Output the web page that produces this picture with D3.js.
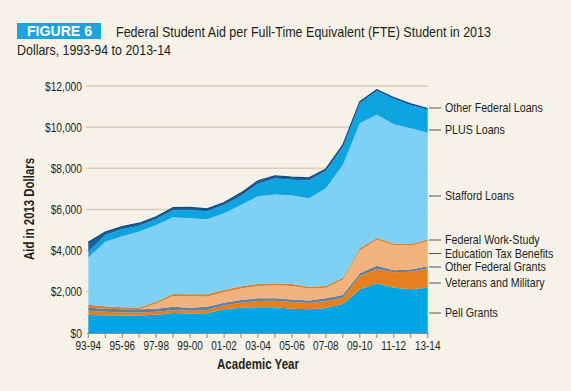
<!DOCTYPE html>
<html><head><meta charset="utf-8">
<script src="https://cdn.jsdelivr.net/npm/d3@7"></script>
<style>
html,body{margin:0;padding:0;background:#f6f2e8;}
svg{display:block;}
</style></head>
<body>
<svg id="c" width="571" height="391"></svg>
<script>
const years = ["93-94","94-95","95-96","96-97","97-98","98-99","99-00","00-01","01-02","02-03","03-04","04-05","05-06","06-07","07-08","08-09","09-10","10-11","11-12","12-13","13-14"];
const tickLabels = ["93-94","95-96","97-98","99-00","01-02","03-04","05-06","07-08","09-10","11-12","13-14"];
const yTicks = [0,2000,4000,6000,8000,10000,12000];

const pellGrants        = [880,860,850,850,890,970,950,960,1150,1230,1250,1250,1180,1150,1215,1410,2124,2415,2200,2124,2200];
const veteransMilitary  = [200,175,150,150,145,148,130,158,195,244,305,320,327,308,340,306,661,695,750,856,944];
const otherFedGrants    = [150,145,150,150,145,160,150,160,130,130,130,120,115,115,130,130,115,160,100,100,100];
const eduTaxBenefits    = [0,0,0,0,250,515,550,500,516,564,600,634,666,590,510,750,1126,1260,1220,1170,1215];
const workStudy         = [140,115,100,85,90,100,100,100,100,100,95,95,95,90,90,90,90,82,77,77,83];
const staffordLoans     = [2303,3144,3452,3695,3729,3725,3695,3645,3727,3952,4269,4305,4292,4295,4746,5477,6074,5997,5800,5623,5185];
const plusLoans         = [272,323,340,275,275,340,385,388,403,438,600,780,767,855,840,892,990,1153,1235,1120,1121];
const otherFedLoans     = [458,140,130,130,125,130,140,120,120,150,150,130,127,133,100,80,60,60,60,60,60];

const seriesNames = ["Pell Grants","Veterans and Military","Other Federal Grants","Education Tax Benefits","Federal Work-Study","Stafford Loans","PLUS Loans","Other Federal Loans"];
const seriesData = [pellGrants,veteransMilitary,otherFedGrants,eduTaxBenefits,workStudy,staffordLoans,plusLoans,otherFedLoans];
const seriesColors = ["#00a6e4","#e5801f","#5f7fa3","#f2b27e","#d9822b","#7fd0f5","#0ea4e2","#16629c"];

const rows = years.map((y,i)=>{const r={year:y}; seriesNames.forEach((n,k)=>r[n]=seriesData[k][i]); return r;});

const svg = d3.select("#c");
const font = "'Liberation Sans',Arial,sans-serif";
const x = d3.scalePoint().domain(years).range([88.3,427.7]);
const y = d3.scaleLinear().domain([0,12000]).range([333,86]);

function ctext(parent, tx, ty, str, size, sx, anchor, weight, fill){
  const g = parent.append("g").attr("transform",`translate(${tx},${ty}) scale(${sx},1)`);
  return g.append("text").attr("x",0).attr("y",0).attr("text-anchor",anchor||"start")
    .attr("font-family",font).attr("font-size",size).attr("font-weight",weight||"normal")
    .attr("fill",fill||"#231f20").text(str);
}

// title
svg.append("rect").attr("x",17).attr("y",23).attr("width",84).attr("height",16).attr("fill","#1ba4de");
svg.append("text").attr("x",27).attr("y",36).attr("fill","#fff").attr("font-family",font)
  .attr("font-weight","bold").attr("font-size",14).attr("textLength",65).attr("lengthAdjust","spacingAndGlyphs").text("FIGURE 6");
svg.append("text").attr("x",116).attr("y",37).attr("fill","#231f20").attr("font-family",font)
  .attr("font-size",14.5).attr("textLength",375).attr("lengthAdjust","spacingAndGlyphs").text("Federal Student Aid per Full-Time Equivalent (FTE) Student in 2013");
svg.append("text").attr("x",17).attr("y",55).attr("fill","#231f20").attr("font-family",font)
  .attr("font-size",14.5).attr("textLength",154).attr("lengthAdjust","spacingAndGlyphs").text("Dollars, 1993-94 to 2013-14");

// grid
svg.append("g").selectAll("line").data(yTicks.filter(d=>d>0)).join("line")
  .attr("x1",86).attr("x2",428).attr("y1",d=>y(d)).attr("y2",d=>y(d))
  .attr("stroke","#d6cfc0").attr("stroke-width",1.5);
const ylab = svg.append("g");
yTicks.forEach(d=>ctext(ylab,82,y(d)+4.5,"$"+d3.format(",")(d),12.5,0.82,"end"));

// stacked areas
const stack = d3.stack().keys(seriesNames);
const stacked = stack(rows);
const area = d3.area().x(d=>x(d.data.year)).y0(d=>y(d[0])).y1(d=>y(d[1]));
svg.append("g").selectAll("path").data(stacked).join("path")
  .attr("d",area).attr("fill",(d,i)=>seriesColors[i]);
const topLine = d3.line().x(d=>x(d.data.year)).y(d=>y(d[1]));
svg.append("path").attr("d",topLine(stacked[stacked.length-1])).attr("fill","none").attr("stroke","#0f4f86").attr("stroke-width",1.2);

// x axis
svg.append("line").attr("x1",87).attr("x2",429).attr("y1",333.5).attr("y2",333.5).attr("stroke","#8a8a8a").attr("stroke-width",1);
svg.append("g").selectAll("line").data(years).join("line")
  .attr("x1",d=>x(d)).attr("x2",d=>x(d)).attr("y1",333).attr("y2",338).attr("stroke","#8a8a8a").attr("stroke-width",1);
const xlab = svg.append("g");
tickLabels.forEach(t=>ctext(xlab,x(t),349.5,t,12.5,0.8,"middle"));

// axis titles
svg.append("text").attr("x",217).attr("y",369).attr("font-family",font)
  .attr("font-weight","bold").attr("font-size",14.5).attr("textLength",82).attr("lengthAdjust","spacingAndGlyphs").attr("fill","#231f20").text("Academic Year");
svg.append("text").attr("transform","translate(34,260) rotate(-90)").attr("font-family",font)
  .attr("font-weight","bold").attr("font-size",14.5).attr("textLength",102).attr("lengthAdjust","spacingAndGlyphs").attr("fill","#231f20").text("Aid in 2013 Dollars");

// legend labels
const legendY = {"Other Federal Loans":108,"PLUS Loans":130,"Stafford Loans":196,"Federal Work-Study":240,"Education Tax Benefits":253.5,"Other Federal Grants":267,"Veterans and Military":283,"Pell Grants":313};
const lg = svg.append("g");
seriesNames.forEach(n=>{
  const ly = legendY[n];
  lg.append("line").attr("x1",429).attr("x2",441).attr("y1",ly).attr("y2",ly).attr("stroke","#555").attr("stroke-width",1);
  ctext(lg,445,ly+4,n,12,0.89,"start");
});
</script>
</body></html>
